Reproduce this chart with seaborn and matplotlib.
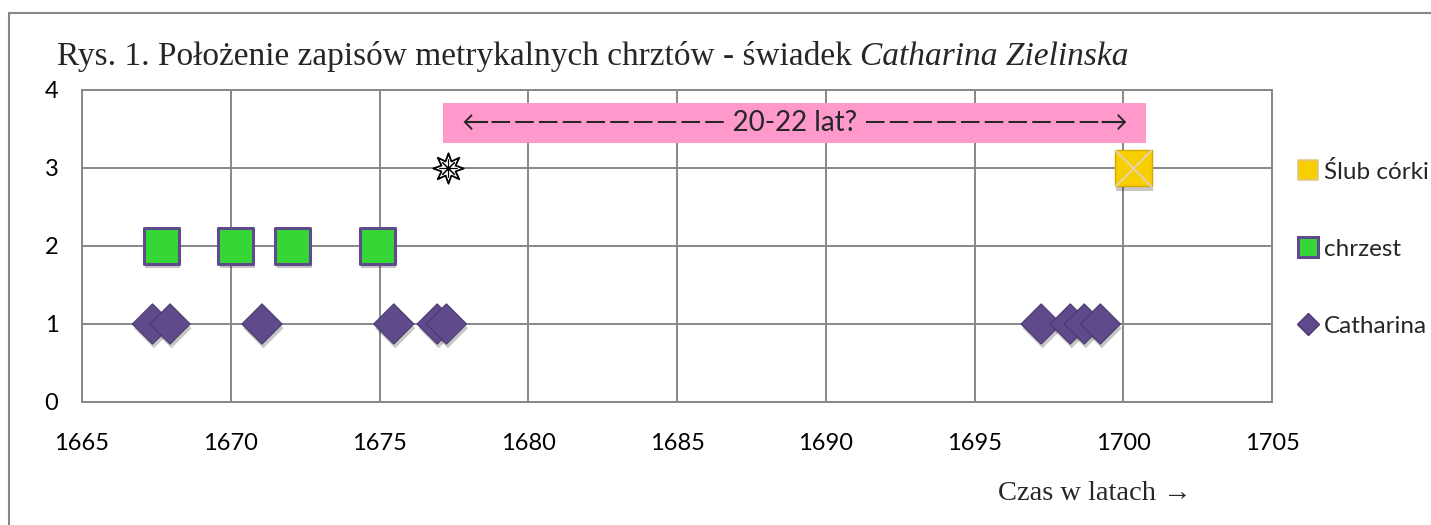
import matplotlib
matplotlib.use("Agg")
import matplotlib.pyplot as plt
import matplotlib.patheffects as pe
from matplotlib.lines import Line2D
from matplotlib.patches import Rectangle
import pandas as pd
import seaborn as sns

# Chart data
catharina_years = [1667.37, 1667.96, 1671.05, 1675.48, 1676.94, 1677.25,
                   1697.24, 1698.22, 1698.69, 1699.23]
catharina_level = [1, 1, 1, 1, 1, 1, 1, 1, 1, 1]
chrzest_years = [1667.66, 1670.17, 1672.09, 1674.93]
chrzest_level = [2, 2, 2, 2]
slub_years = [1700.34]
slub_level = [3]
star_year = [1677.3]
star_level = [3]
span_start, span_end = 1677.15, 1700.75
span_low, span_high = 3.32, 3.83
dash = "\u2014\u200a"
span_label = "\u2190" + dash * 9 + "\u2014 20-22 lat? " + dash * 9 + "\u2014\u2192"

title_plain = "Rys. 1. Położenie zapisów metrykalnych chrztów - świadek "
title_italic = "Catharina Zielinska"
xlabel = "Czas w latach \u2192"
legend_labels = ["Ślub córki", "chrzest", "Catharina"]

x_ticks = [1665, 1670, 1675, 1680, 1685, 1690, 1695, 1700, 1705]
y_ticks = [0, 1, 2, 3, 4]

GRID = "#878787"
PURPLE = "#5f4a8b"
PURPLE_EDGE = "#4b3a6e"
GREEN = "#36d636"
GOLD = "#f7cf00"

sns.set_style("white")
plt.rcParams["font.family"] = ["Lato", "DejaVu Sans"]

cath = pd.DataFrame({"year": catharina_years, "level": catharina_level})
chrz = pd.DataFrame({"year": chrzest_years, "level": chrzest_level})
slub = pd.DataFrame({"year": slub_years, "level": slub_level})

fig = plt.figure(figsize=(14.31, 5.25), dpi=100)
ax = fig.add_axes([82 / 1431, 1 - 402 / 525, 1190 / 1431, 312 / 525])

shadow = [pe.SimplePatchShadow(offset=(1, -3), shadow_rgbFace="#000000", alpha=0.22), pe.Normal()]

ax.add_patch(Rectangle((span_start, span_low), span_end - span_start, span_high - span_low,
                       facecolor="#ff99cc", edgecolor="none", zorder=3))
ax.text((span_start + span_end) / 2, (span_low + span_high) / 2, span_label,
        ha="center", va="center", fontsize=20, zorder=4)

sns.scatterplot(data=cath, x="year", y="level", marker="D", s=420, color=PURPLE,
                edgecolor=PURPLE_EDGE, linewidth=0.8, ax=ax, zorder=5, legend=False)
sns.scatterplot(data=chrz, x="year", y="level", marker="s", s=640, color=GREEN,
                edgecolor=PURPLE, linewidth=2.2, ax=ax, zorder=5, legend=False)
sns.scatterplot(data=slub, x="year", y="level", marker="s", s=700, color=GOLD,
                edgecolor="#d4a800", linewidth=1, ax=ax, zorder=5, legend=False)
sns.scatterplot(data=slub, x="year", y="level", marker="x", s=700, color="#e6d2a8",
                linewidth=1.5, ax=ax, zorder=6, legend=False)
for coll in ax.collections[:3]:
    coll.set_path_effects(shadow)

ax.scatter(star_year, star_level, marker=(8, 1, 0), s=480, facecolor="white",
           edgecolor="black", linewidth=1.3, zorder=6)
ax.scatter(star_year, star_level, marker=(8, 2, 0), s=150, color="black",
           linewidth=0.8, zorder=7)

ax.set_xlim(1665, 1705)
ax.set_ylim(0, 4)
ax.set_xticks(x_ticks)
ax.set_yticks(y_ticks)
ax.grid(True, color=GRID, linewidth=1.4)
ax.set_axisbelow(True)
for sp in ax.spines.values():
    sp.set_color(GRID)
    sp.set_linewidth(1.4)
ax.tick_params(axis="both", direction="out", length=6, width=1.4, color=GRID,
               labelsize=17, labelcolor="black")
ax.tick_params(axis="x", pad=16)
ax.tick_params(axis="y", pad=11)
ax.set_xlabel("")
ax.set_ylabel("")

handles = [
    Line2D([], [], ls="", marker="s", markersize=14, mfc=GOLD, mec="#e0c890", mew=1.2),
    Line2D([], [], ls="", marker="s", markersize=14, mfc=GREEN, mec=PURPLE, mew=2.2),
    Line2D([], [], ls="", marker="D", markersize=11, mfc=PURPLE, mec=PURPLE_EDGE),
]
fig.legend(handles, legend_labels, loc="upper left",
           bbox_to_anchor=(1298 / 1431, 1 - 161 / 525), frameon=False,
           fontsize=17.5, handlelength=0.8, handletextpad=0.25, labelspacing=2.3,
           borderaxespad=0, borderpad=0)

# title: roman part followed by italic part on the same baseline
ty = 1 - 65 / 525
t1 = fig.text(57 / 1431, ty, title_plain, family="Liberation Serif", fontsize=24,
              va="baseline", ha="left")
ax.annotate(title_italic, xy=(1, ty), xycoords=(t1, "figure fraction"),
            family="Liberation Serif", style="italic", fontsize=24,
            va="baseline", ha="left", annotation_clip=False)

fig.text(1095 / 1431, 1 - 493 / 525, xlabel, family="Liberation Serif", fontsize=20.5,
         ha="center", va="center")

# outer chart frame (left and top edges visible)
fig.add_artist(Line2D([9 / 1431, 9 / 1431], [0, 1 - 13 / 525], transform=fig.transFigure,
                      color=GRID, lw=1.5))
fig.add_artist(Line2D([9 / 1431, 1], [1 - 13 / 525, 1 - 13 / 525], transform=fig.transFigure,
                      color=GRID, lw=1.5))

fig.savefig("out.png", dpi=100)
